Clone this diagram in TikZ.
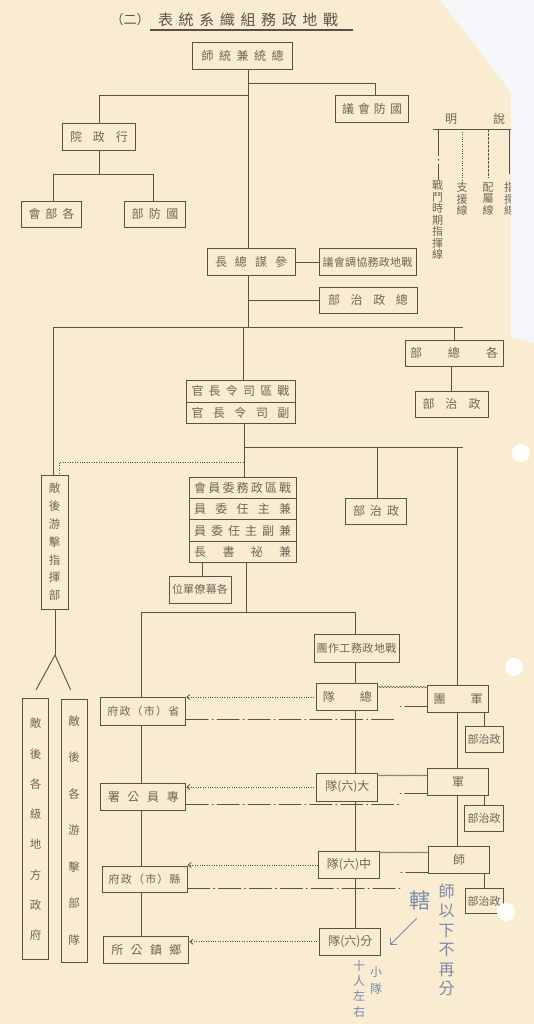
\documentclass[tikz,border=0pt]{standalone}
\usepackage{fontspec}
\newfontfamily\cjk{Noto Sans CJK TC}
\usetikzlibrary{arrows.meta,decorations.pathmorphing}
\definecolor{paper}{RGB}{249,236,209}
\definecolor{linec}{RGB}{88,81,72}
\definecolor{textc}{RGB}{112,102,90}
\definecolor{titlec}{RGB}{92,84,74}
\definecolor{hand}{RGB}{122,138,172}
\definecolor{blank}{RGB}{246,247,250}
\makeatletter
\newcommand\spr[2]{\makebox[#1][s]{\spr@a#2\relax}}
\def\spr@a#1{#1\spr@b}
\def\spr@b#1{\ifx\relax#1\else\hfil#1\expandafter\spr@b\fi}
\makeatother
\begin{document}
\begin{tikzpicture}[x=1pt,y=-1pt,
  bx/.style={draw=linec, line width=0.9pt, inner sep=0pt, minimum height=26pt, text=textc, font=\cjk\fontsize{12}{12}\selectfont},
  fsm/.style={font=\cjk\fontsize{11}{11}\selectfont},
  ln/.style={draw=linec, line width=0.9pt},
  sup/.style={draw=linec, line width=0.8pt, dash pattern=on 0.8pt off 1.6pt},
  att/.style={draw=linec, line width=0.5pt, decorate, decoration={snake, amplitude=0.6pt, segment length=3pt}},
  cdd/.style={draw=linec, line width=0.9pt, line cap=round, dash pattern=on 22pt off 4pt on 0.9pt off 4pt},
  cds/.style={draw=linec, line width=0.9pt, line cap=round, dash pattern=on 0.9pt off 4pt on 60pt},
  tip/.style={-{Straight Barb[length=3pt,width=5pt]}},
  lgt/.style={align=center, inner sep=0pt, text=textc, font=\cjk\fontsize{11}{11.5}\selectfont},
  hw/.style={align=center, inner sep=0pt, text=hand},
]
\useasboundingbox (0,0) rectangle (534,1024);
\fill[paper] (0,0) rectangle (534,1024);

% title
\node[inner sep=0pt, text=titlec, font=\cjk\fontsize{13}{13}\selectfont] (tn) at (130,20) {（二）};
\node[inner sep=0pt, text=titlec, font=\cjk\fontsize{15}{15}\selectfont] (tt) at (248,20) {\spr{180pt}{表統系織組務政地戰}};
\coordinate (ul1) at (150,30);
\coordinate (ul2) at (353,30);
\draw[linec, line width=1.2pt] (ul1) -- (ul2);

% nodes
\node[bx,minimum width=100,minimum height=27] (zt) at (242.7,56) {\spr{82pt}{師統兼統總}};
\node[bx,minimum width=73,minimum height=27] (gfhy) at (372,109) {\spr{60pt}{議會防國}};
\node[bx,minimum width=73,minimum height=27] (xzy) at (99,136.5) {\spr{58pt}{院政行}};
\node[bx,minimum width=60] (gbh) at (51.5,214) {\spr{46pt}{會部各}};
\node[bx,minimum width=61] (gfb) at (155,214) {\spr{47pt}{部防國}};
\node[bx,minimum width=88,minimum height=27] (cmzz) at (251,262) {\spr{72pt}{長總謀參}};
\node[bx,fsm,minimum width=97,minimum height=27] (xthy) at (367.5,262) {\spr{90pt}{議會調協務政地戰}};
\node[bx,minimum width=98] (zzzb) at (368,300) {\spr{80pt}{部治政總}};
\node[bx,minimum width=98] (gzb) at (454,353) {\spr{88pt}{部總各}};
\node[bx,minimum width=73] (zzb1) at (451.5,404) {\spr{58pt}{部治政}};
\node[bx,minimum width=109,minimum height=22] (zq1) at (240.5,391) {\spr{98pt}{官長令司區戰}};
\node[bx,minimum width=109,minimum height=21] (zq2) at (240.5,412.5) {\spr{98pt}{官長令司副}};
\node[bx,minimum width=107,minimum height=21.3] (ws1) at (242.7,487.85) {\spr{97pt}{會員委務政區戰}};
\node[bx,minimum width=107,minimum height=21.3] (ws2) at (242.7,509.15) {\spr{97pt}{員委任主兼}};
\node[bx,minimum width=107,minimum height=21.3] (ws3) at (242.7,530.45) {\spr{97pt}{員委任主副兼}};
\node[bx,minimum width=107,minimum height=21.3] (ws4) at (242.7,551.75) {\spr{97pt}{長書祕兼}};
\node[bx,minimum width=61] (zzb2) at (376,511) {\spr{46pt}{部治政}};
\node[bx,fsm,minimum width=62,minimum height=27] (gml) at (200,589.5) {\spr{56pt}{位單僚幕各}};
\node[bx,fsm,minimum width=85,minimum height=28] (gzt) at (356.5,648) {\spr{80pt}{團作工務政地戰}};
\node[bx,minimum width=61,minimum height=27] (zd) at (347.4,697) {\spr{49pt}{隊總}};
\node[bx,minimum width=61,minimum height=27] (jt) at (458,699) {\spr{49pt}{團軍}};
\node[bx,fsm,minimum width=85,minimum height=28] (sheng) at (143.3,711) {\spr{72pt}{府政（市）省}};
\node[bx,fsm,minimum width=38] (zzbA) at (484,739) {部治政};
\node[bx,minimum width=61,minimum height=27] (jun) at (458,782) {軍};
\node[bx,minimum width=61,minimum height=28] (dd) at (347.4,787) {隊(六)大};
\node[bx,minimum width=85,minimum height=27] (zy) at (143.3,797) {\spr{71pt}{署公員專}};
\node[bx,fsm,minimum width=39] (zzbB) at (484,818) {部治政};
\node[bx,minimum width=61,minimum height=27] (shi) at (459,860) {師};
\node[bx,minimum width=61,minimum height=27] (zhd) at (349,865) {隊(六)中};
\node[bx,fsm,minimum width=85] (xian) at (144.7,879.6) {\spr{72pt}{府政（市）縣}};
\node[bx,fsm,minimum width=38,minimum height=25] (zzbC) at (484,901) {部治政};
\node[bx,minimum width=61,minimum height=27] (fd) at (350.4,941.7) {隊(六)分};
\node[bx,minimum width=85,minimum height=27] (xz) at (146.4,949.6) {\spr{70pt}{所公鎮鄉}};

% vertical boxes
\node[bx,align=center,minimum width=27,minimum height=134,font=\cjk\fontsize{11.5}{17.8}\selectfont] (dh) at (54.5,542) {敵\\後\\游\\擊\\指\\揮\\部};
\node[bx,align=center,minimum width=26,minimum height=261,font=\cjk\fontsize{11.5}{30.3}\selectfont] (dfz) at (35.5,829.4) {敵\\後\\各\\級\\地\\方\\政\\府};
\node[bx,align=center,minimum width=26,minimum height=263,font=\cjk\fontsize{11.5}{36.5}\selectfont] (dyj) at (74,830.5) {敵\\後\\各\\游\\擊\\部\\隊};

% junction coordinates
\coordinate (j1) at (248.5,83);
\coordinate (jg) at (375,83);
\coordinate (j2) at (248.5,95.3);
\coordinate (jx) at (99.5,95.3);
\coordinate (j3) at (99.5,174.7);
\coordinate (jl) at (53.5,174.7);
\coordinate (jr) at (153,174.7);
\coordinate (j4) at (248,300.7);
\coordinate (j5) at (248,327);
\coordinate (jA) at (53,327);
\coordinate (jB) at (463,327);
\coordinate (jC) at (454,327);
\coordinate (jD) at (243,327);
\coordinate (jE) at (244.5,447);
\coordinate (jF) at (462.5,447);
\coordinate (jG) at (457,447);
\coordinate (jH) at (377,447);
\coordinate (jI) at (243.5,462);
\coordinate (jJ) at (59.6,462);
\coordinate (jK) at (246,612);
\coordinate (jL) at (141,612);
\coordinate (jM) at (355,612);
\coordinate (jN) at (202.7,600);
\coordinate (sp) at (55,655);
\coordinate (s1) at (36,690);
\coordinate (s2) at (70.7,690);
\coordinate (w1) at (378,687);
\coordinate (w2) at (378,775.4);
\coordinate (w3) at (379.8,852.5);
\coordinate (c1) at (400,706);
\coordinate (c2) at (400,793);
\coordinate (c3) at (401,872);
\coordinate (d1) at (395,719);
\coordinate (d2) at (400,804.5);
\coordinate (d3) at (402,888.3);

% connectors
\draw[ln] (j1 |- zt.south) -- (j1 |- cmzz.north);
\draw[ln] (j1) -- (jg) -- (jg |- gfhy.north);
\draw[ln] (j2) -- (jx) -- (jx |- xzy.north);
\draw[ln] (j3 |- xzy.south) -- (j3);
\draw[ln] (jl |- gbh.north) -- (jl) -- (jr) -- (jr |- gfb.north);
\draw[ln] (cmzz.east) -- (xthy.west);
\draw[ln] (j5 |- cmzz.south) -- (j5);
\draw[ln] (j4) -- (j4 -| zzzb.west);
\draw[ln] (jA) -- (jB);
\draw[ln] (jC) -- (jC |- gzb.north);
\draw[ln] (zzb1.north |- gzb.south) -- (zzb1.north);
\draw[ln] (jA) -- (jA |- dh.north);
\draw[ln] (jD) -- (jD |- zq1.north);
\draw[ln] (jE |- zq2.south) -- (jE |- ws1.north);
\draw[ln] (jE) -- (jF);
\draw[ln] (jG) -- (jG |- jt.north);
\draw[ln] (jH) -- (jH |- zzb2.north);
\draw[sup] (jI) -- (jJ) -- (jJ |- dh.north);
\draw[ln] (jK |- ws4.south) -- (jK);
\draw[ln] (jN |- ws4.south) -- (jN |- gml.north);
\draw[ln] (jL) -- (jM);
\draw[ln] (jL) -- (jL |- sheng.north);
\draw[ln] (jM) -- (jM |- gzt.north);
\draw[ln] (jM |- gzt.south) -- (jM |- zd.north);
\draw[ln] (jM |- zd.south) -- (jM |- dd.north);
\draw[ln] (jM |- dd.south) -- (jM |- zhd.north);
\draw[ln] (jM |- zhd.south) -- (jM |- fd.north);
\draw[ln] (jG |- jt.south) -- (jG |- jun.north);
\draw[ln] (jG |- jun.south) -- (jG |- shi.north);
\draw[ln] (zzbA.north |- jt.south) -- (zzbA.north);
\draw[ln] (zzbB.north |- jun.south) -- (zzbB.north);
\draw[ln] (zzbC.north |- shi.south) -- (zzbC.north);
\draw[ln] (jL |- sheng.south) -- (jL |- zy.north);
\draw[ln] (jL |- zy.south) -- (jL |- xian.north);
\draw[ln] (jL |- xian.south) -- (jL |- xz.north);
\draw[ln] (dh.south -| sp) -- (sp);
\draw[ln] (sp) -- (s1);
\draw[ln] (sp) -- (s2);

% support (dotted) arrows
\draw[sup,tip] (zd.west) -- (zd.west -| sheng.east);
\draw[sup,tip] (dd.west) -- (dd.west -| zy.east);
\draw[sup,tip] (zhd.west) -- (zhd.west -| xian.east);
\draw[sup,tip] (fd.west) -- (fd.west -| xz.east);

% attachment (wavy)
\draw[att] (w1) -- (w1 -| jt.west);
\draw[att] (w2) -- (w2 -| jun.west);
\draw[att] (w3) -- (w3 -| shi.west);

% combat-period command lines
\draw[cds] (c1) -- (c1 -| jt.west);
\draw[cds] (c2) -- (c2 -| jun.west);
\draw[cds] (c3) -- (c3 -| shi.west);
\draw[cdd] (d1 -| sheng.east) -- (d1);
\draw[cdd] (d2 -| zy.east) -- (d2);
\draw[cdd] (d3 -| xian.east) -- (d3);

% legend
\node[inner sep=0pt, text=textc, font=\cjk\fontsize{12}{12}\selectfont] (lgm) at (451,119) {明};
\node[inner sep=0pt, text=textc, font=\cjk\fontsize{12}{12}\selectfont] (lgs) at (499,119) {說};
\coordinate (L0) at (432.6,129.4);
\coordinate (L1) at (511,129.4);
\coordinate (La) at (438.3,129.4);
\coordinate (Lb) at (462,129.4);
\coordinate (Lc) at (488,129.4);
\coordinate (Ld) at (509.5,129.4);
\node[lgt] (lg1) at (437.5,220) {戰\\鬥\\時\\期\\指\\揮\\線};
\node[lgt] (lg2) at (462,199) {支\\援\\線};
\node[lgt] (lg3) at (488,199) {配\\屬\\線};
\node[lgt] (lg4) at (509.5,199) {指\\揮\\線};
\draw[ln] (L0) -- (L1);
\draw[ln, line cap=round, dash pattern=on 26pt off 4pt on 0.9pt off 4pt on 30pt] (La) -- (La |- lg1.north);
\draw[sup] (Lb) -- (Lb |- lg2.north);
\draw[draw=linec, line width=0.6pt, dash pattern=on 3pt off 1pt] (Lc) -- ([yshift=4pt]Lc |- lg3.north);
\draw[ln] (Ld) -- ([yshift=8pt]Ld |- lg4.north);

% handwritten notes
\node[hw, font=\cjk\fontsize{16}{19.4}\selectfont] (n1) at (446.7,940) {師\\以\\下\\不\\再\\分};
\node[hw, font=\cjk\fontsize{21}{21}\selectfont] (n2) at (420,900) {轄};
\coordinate (h1) at (416.7,918.3);
\coordinate (h2) at (390,945);
\draw[hand, line width=0.8pt, -{Straight Barb[length=5pt,width=10pt]}] (h1) -- (h2);
\node[hw, font=\cjk\fontsize{12}{17}\selectfont] (n3) at (376,981) {小\\隊};
\node[hw, font=\cjk\fontsize{12}{15.3}\selectfont] (n4) at (359,988.6) {十\\人\\左\\右};

% paper edge and punch holes
\fill[blank] (440,0) -- (534,0) -- (534,343) -- (511,337) -- (511,92) -- cycle;
\fill[white] (521,453) circle[radius=9pt];
\fill[white] (514,667) circle[radius=9pt];
\fill[white] (506,912) circle[radius=9pt];
\end{tikzpicture}
\end{document}
